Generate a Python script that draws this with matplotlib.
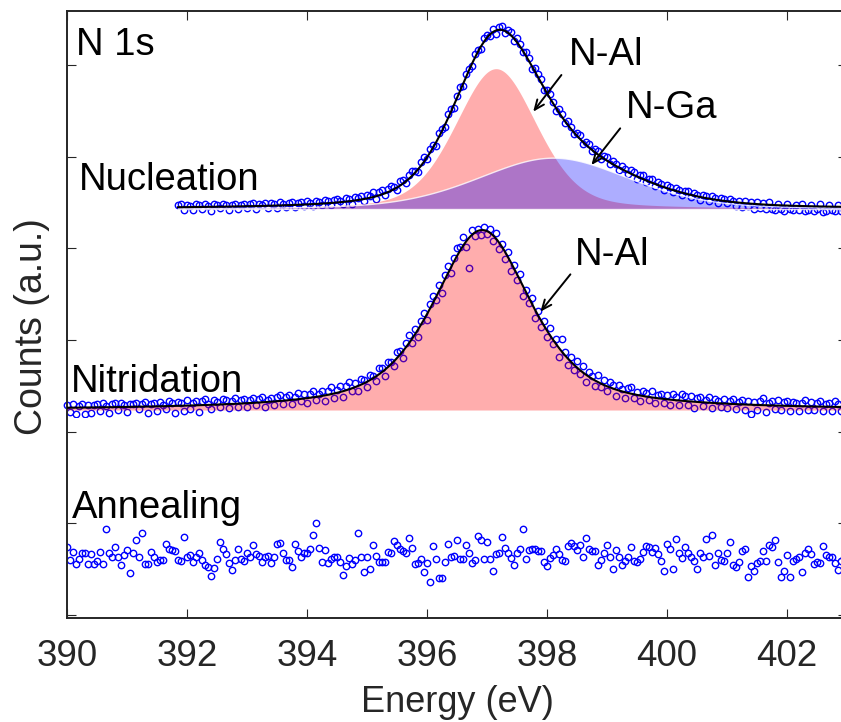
import numpy as np
import matplotlib
matplotlib.use("Agg")
import matplotlib.pyplot as plt
from matplotlib.patches import Rectangle

plt.rcParams["font.family"] = ["Liberation Sans", "DejaVu Sans"]

# ---------------------------------------------------------------- data
COUNTS_PER_DIV = 275          # counts (a.u.) per vertical tick division
E_STEP = 0.05                 # energy step of the spectra (eV)

# Fitted components: centre (eV), height (counts), FWHM (eV), Lorentzian fraction
NUC_PEAKS = {"N-Al": (397.15, 421, 1.60, 0.30),
             "N-Ga": (398.10, 154, 3.00, 0.30)}
NIT_PEAKS = {"N-Al": (396.92, 540, 1.95, 0.65)}

# Start energy and stacking offset (counts) of each spectrum
NUC_START, NIT_START, ANN_START = 391.85, 390.00, 390.00
NUC_BASE, NIT_BASE, ANN_BASE = 1218, 615, 180

# Measured counts minus fitted envelope (counts)
NUC_RESID = [
    6, 10, -8, 7, 4, -10, 8, 5, -6, 9, 3, -12, 7, 6, -5, 8, 4, -9, 6, 7,
    -7, 5, 8, -4, 6, 9, -10, 5, 3, 8, -6, 7, 5, -8, 9, 4, -5, 7, 10, -6,
    6, 8, -5, 10, 4, -7, 9, 6, -4, 11, 7, -6, 8, 12, 5, -5, 10, 6, -8, 9,
    7, 12, -6, 10, 5, 14, -7, 9, 12, -4, 8, 15, 6, -8, 13, 10, -5, 12, 16, 4,
    -9, 12, 14, -6, 10, 8, -12, 11, 6, -8, 13, 9, -10, 7, 12, -6, 9, 5, -8, 11,
    6, -7, 10, 8, -5, 9, -10, 7, 12, -6, 8, 10, -9, 14, 6, -4, 12, 9, -7, 11,
    8, 12, -6, 10, 14, 5, -8, 11, 9, -6, 13, 7, -5, 10, 12, -7, 8, 11, -4, 9,
    10, -6, 8, 12, -5, 9, 7, -8, 11, 6, -4, 10, 8, -7, 9, 12, -6, 7, 10, -5,
    8, 6, -7, 10, 5, -6, 9, 7, -8, 6, 10, -5, 7, 4, -9, 8, 6, -6, 9, 5,
    -8, 7, 5, -6, 9, 4, -10, 6, -12, 8, -7, 5, -14, 6, -10, 4, -13, 7, -11, -15,
    5, -12, -16, 6, -10, -14, 4, -13, 7, -15, -11, 5, -14, -9, 6, -16, -12, 4, -10, -13,
    5, -14, -8,
]

NIT_RESID = [
    8, -14, 10, -18, 6, 12, -20, 9, -16, 7, 10, -12, 13, 5, -17, 9, 11, -8, 12, 6,
    -14, 10, 8, 11, -6, 9, 13, -19, 7, 10, -15, 12, 4, -9, 14, 8, -22, 12, 9, -16,
    16, -10, 6, 13, -20, 11, 17, 4, -12, 14, 9, -7, 15, 12, -13, 8, 16, -10, 10, 14,
    -12, 9, 15, -8, 11, 17, -14, 6, 12, -11, 14, 18, -9, 10, 16, -13, 8, 19, -6, 15,
    -15, 12, 20, -10, 7, 16, -18, 11, 22, -12, 9, 17, -16, 14, 21, -9, 12, -14, 18, 10,
    -17, 15, 8, -13, 20, 11, -19, 14, 6, -15, 19, 10, -20, 13, 24, -12, 16, -22, 11, 18,
    -18, 14, 22, -10, 17, -24, 12, 20, -16, 9, 25, 11, 28, -15, -90, 13, -12, 6, -14, 10,
    -10, 12, -18, 16, -20, 8, -22, 14, -25, 10, -18, 20, -28, 6, -15, 18, -24, 12, -20, 15,
    -18, 22, -14, 16, -26, 38, 10, -20, 14, -16, 20, -12, 18, -22, 15, 9, -18, 20, -10, 14,
    -14, 16, 12, -20, 18, 8, -16, 14, 20, -12, 10, -18, 16, 12, -9, 18, -14, 10, 15, -12,
    12, -16, 18, 10, -13, 20, 14, -10, 16, -18, 11, 15, -12, 9, 17, -15, 12, 8, -10, 14,
    -12, 10, 16, -14, 8, 13, -18, 11, -28, 9, -15, 12, 20, -20, 8, 14, -10, 18, -12, 10,
    16, -14, 12, 8, -16, 10, 18, -12, 14, -10, 12, 16, -14, 9, 11, -13, 17, 8, -12, 14,
    10,
]

ANN_RESID = [
    25, -15, 10, -27, -13, 5, 7, -27, 2, -27, -18, 10, -27, 78, 5, -7, 23, -7, -30, 0,
    15, -53, 5, 45, -5, 65, -28, -27, 8, -7, -20, -15, -15, 33, 17, 15, 13, -15, -17, 55,
    -7, 0, -20, -7, 5, -15, -30, -37, -63, -40, -13, 38, 17, 2, -25, -45, -15, 18, -12, -17,
    5, -7, 30, 3, -3, -20, -7, -3, -25, -7, 32, 35, 7, -15, -15, -37, 33, 12, -5, 5,
    5, 17, 60, 95, 20, -20, 15, -23, -13, -7, -7, -20, -60, -33, -10, -27, -15, 67, -7, -50,
    -7, -43, 30, -3, -20, -20, -20, 10, 7, 43, 30, 17, 13, 7, 50, 20, -27, -23, -13, -50,
    -25, -80, 27, -13, -68, -68,
    -22, 33, -5, -2, 44, -12, -12, 30, 7, -23, -15, 57, 45, -13, 38, -13, -48, 3, 7, 53,
    20, 5, -10, -30, 5, 17, 78, -13, 15, 17, 17, 13, 13, -20, -33, -10, 0, 18, 3, -15,
    -17, 27, 37, 27, 15, 30, -7, 50, 18, 13, 13, -30, -15, 5, 30, -7, -42, 15, -7, -30,
    -17, -7, 24, -17, -22, -13, 8, 27, 23, 10, 20, 2, -17, -48, 32, 17, -43, 47, 7, -10,
    23, 5, -7, -18, -43, 7, -5, 47, -3, 60, -30, 5, -15, -18, 5, 38, -30, -35, -20, 12,
    17, -65, -33, -48, -23, -17, 13, -18, 30, 25, 45, -20, -65, -47, 0, -65, -18, -13, -7, -50,
    5, 17, 3, -27, -20, -25, 27, 0, -5, -7, -25, -45, -18, -10,
]

SPECTRUM_LABELS = ["Nucleation", "Nitridation", "Annealing"]
X_TICKS = [390, 392, 394, 396, 398, 400, 402]


# ---------------------------------------------------------------- model
def pseudo_voigt(e, centre, height, fwhm, eta):
    u = ((e - centre) / fwhm) ** 2
    return height * ((1 - eta) * np.exp(-4 * np.log(2) * u) + eta / (1 + 4 * u))


def energies(start, n):
    return start + E_STEP * np.arange(n)


# ---------------------------------------------------------------- figure
fig = plt.figure(figsize=(8.41, 7.22), dpi=100)
ax = fig.add_axes([67 / 841, 1 - 617.7 / 722, 780 / 841, 606.7 / 722])

AXC = (0.15, 0.15, 0.15)
BLUE = "#0000ff"
RED_FILL = (1.0, 0.0, 0.0, 0.32)
BLUE_FILL = (0.0, 0.0, 1.0, 0.32)
MK = dict(ls="none", marker="o", ms=4.6, mfc="none", mec=BLUE, mew=1.0)


def clip_below(artist, base):
    rect = Rectangle((385, base - 22), 25, 3000, transform=ax.transData)
    artist.set_clip_path(rect)


# Nucleation: two components
e_nuc = energies(NUC_START, len(NUC_RESID))
ef = np.linspace(e_nuc[0], e_nuc[-1], 800)
comp_al = pseudo_voigt(ef, *NUC_PEAKS["N-Al"])
comp_ga = pseudo_voigt(ef, *NUC_PEAKS["N-Ga"])
fit_nuc = pseudo_voigt(e_nuc, *NUC_PEAKS["N-Al"]) + pseudo_voigt(e_nuc, *NUC_PEAKS["N-Ga"])
pts, = ax.plot(e_nuc, NUC_BASE + fit_nuc + np.array(NUC_RESID), zorder=2, **MK)
clip_below(pts, NUC_BASE)
ax.fill_between(ef, NUC_BASE, NUC_BASE + comp_al, color=RED_FILL, lw=0, zorder=3)
ax.fill_between(ef, NUC_BASE, NUC_BASE + comp_ga, facecolor=BLUE_FILL,
                edgecolor=(1, 1, 1, 0.8), lw=1.0, zorder=3)
ax.plot(ef, NUC_BASE + comp_al + comp_ga, color="k", lw=1.5, zorder=4)

# Nitridation: one component
e_nit = energies(NIT_START, len(NIT_RESID))
ef = np.linspace(e_nit[0], e_nit[-1], 800)
comp_al = pseudo_voigt(ef, *NIT_PEAKS["N-Al"])
fit_nit = pseudo_voigt(e_nit, *NIT_PEAKS["N-Al"])
pts, = ax.plot(e_nit, NIT_BASE + fit_nit + np.array(NIT_RESID), zorder=2, **MK)
clip_below(pts, NIT_BASE)
ax.fill_between(ef, NIT_BASE, NIT_BASE + comp_al, color=RED_FILL, lw=0, zorder=3)
ax.plot(ef, NIT_BASE + comp_al, color="k", lw=1.5, zorder=4)

# Annealing: no nitrogen signal
e_ann = energies(ANN_START, len(ANN_RESID))
ax.plot(e_ann, ANN_BASE + np.array(ANN_RESID), zorder=2, **MK)

# ---------------------------------------------------------------- text
FS = 27.5
ax.text(390.15, 1680, "N 1s", fontsize=FS, ha="left", va="baseline", zorder=5)
ax.text(390.20, 1275, SPECTRUM_LABELS[0], fontsize=FS, ha="left", va="baseline", zorder=5)
ax.text(390.07, 670, SPECTRUM_LABELS[1], fontsize=FS, ha="left", va="baseline", zorder=5)
ax.text(390.09, 290, SPECTRUM_LABELS[2], fontsize=FS, ha="left", va="baseline", zorder=5)

ax.text(398.36, 1650, "N-Al", fontsize=FS, ha="left", va="baseline", zorder=5)
ax.text(399.31, 1490, "N-Ga", fontsize=FS, ha="left", va="baseline", zorder=5)
ax.text(398.47, 1050, "N-Al", fontsize=FS, ha="left", va="baseline", zorder=5)

ARROW = dict(arrowstyle="->,head_length=0.7,head_width=0.3", color="k", lw=1.4,
             shrinkA=0, shrinkB=0)
ax.annotate("", xy=(397.77, 1510), xytext=(398.24, 1620), arrowprops=ARROW, zorder=5)
ax.annotate("", xy=(398.74, 1350), xytext=(399.22, 1460), arrowprops=ARROW, zorder=5)
ax.annotate("", xy=(397.89, 910), xytext=(398.39, 1022), arrowprops=ARROW, zorder=5)

# ---------------------------------------------------------------- axes
ax.set_xlim(390, 403)
ax.set_ylim(-8, 1812)
ax.set_xticks(X_TICKS)
ax.set_yticks([COUNTS_PER_DIV * k for k in range(7)])
ax.set_yticklabels([])
ax.tick_params(direction="in", length=6.5, width=0.8, color=AXC, labelcolor=AXC,
               top=True, right=True, labelsize=26.5)
ax.tick_params(axis="x", pad=15)
for s in ax.spines.values():
    s.set_linewidth(1.4)
    s.set_color(AXC)
ax.set_xlabel("Energy (eV)", fontsize=26, color=AXC, labelpad=8)
ax.set_ylabel("Counts (a.u.)", fontsize=27, color=AXC)
ax.yaxis.set_label_coords(-0.022, 0.48)

fig.savefig("out.png", dpi=100)
